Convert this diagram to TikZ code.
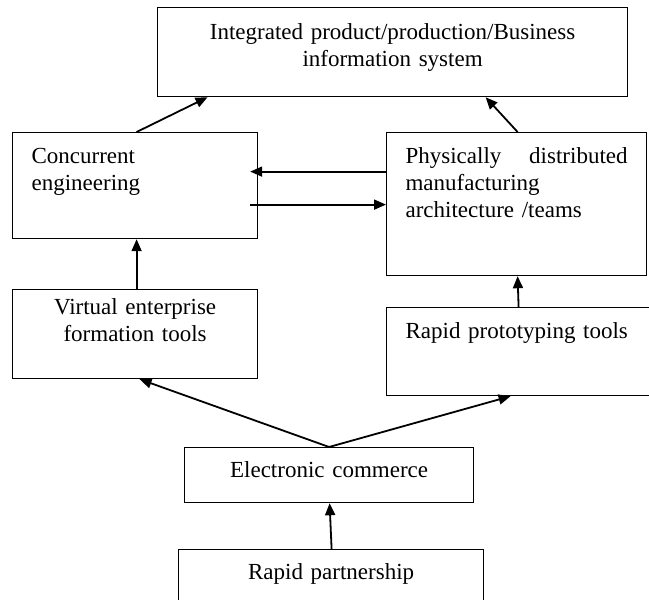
\documentclass[tikz,border=0pt]{standalone}
\usepackage{fontspec}
\setmainfont{Liberation Serif}
\usetikzlibrary{arrows.meta}

\begin{document}
\begin{tikzpicture}[x=0.5pt,y=-0.5pt,
	box/.style={draw, line width=0.6pt, anchor=north west, inner ysep=0pt,
		font=\fontsize{11.5}{13.5}\selectfont},
	arr/.style={line width=0.9pt, -{Triangle[length=6pt,width=5pt]}}]
	\useasboundingbox (0,0) rectangle (649,600);
	% boxes
	\node[box, align=center, inner xsep=0pt, text width=235pt, text height=16pt, text depth=28.5pt] (top) at (157,7)
		{Integrated product/production/Business\\information system};
	\node[box, align=left, inner xsep=9.5pt, text width=103.5pt, text height=15.5pt, text depth=37.5pt] (conc) at (12,132)
		{Concurrent\\engineering};
	\node[box, align=left, inner xsep=9.5pt, text width=111pt, text height=15.5pt, text depth=56pt] (phys) at (386,132)
		{Physically\hfill distributed\\manufacturing\\architecture /teams};
	\node[box, align=center, inner xsep=0pt, text width=122.5pt, text height=12.5pt, text depth=32pt] (virt) at (12,289)
		{Virtual enterprise\\formation tools};
	\node[box, align=left, inner xsep=9.5pt, text width=116pt, text height=15.5pt, text depth=28.5pt] (proto) at (386,307)
		{Rapid prototyping tools};
	\node[box, align=center, inner xsep=0pt, text width=144.5pt, text height=15pt, text depth=12.5pt] (ecom) at (184,447)
		{Electronic commerce};
	\node[box, align=center, inner xsep=0pt, text width=152.5pt, text height=15pt, text depth=15pt] (part) at (178,549)
		{Rapid partnership};
	% arrows
	\draw[arr] ([xshift=0.75pt]conc.north) -- ([xshift=-92.5pt]top.south);
	\draw[arr] ([xshift=0.5pt]phys.north) -- ([xshift=46.5pt]top.south);
	\draw[arr] ([yshift=16.25pt]phys.west) -- ([xshift=-4pt,yshift=7pt]conc.east);
	\draw[arr] ([xshift=-4pt,yshift=-9.5pt]conc.east) -- ([yshift=-0.25pt]phys.west);
	\draw[arr] ([xshift=0.75pt]virt.north) -- ([xshift=0.75pt]conc.south);
	\draw[arr] ([xshift=-1.5pt]proto.north) -- ([xshift=0.5pt]phys.south);
	\draw[arr] (ecom.north) -- ([xshift=2.25pt]virt.south);
	\draw[arr] (ecom.north) -- ([xshift=-5.5pt]proto.south);
	\draw[arr] ([xshift=0.25pt]part.north) -- ([xshift=0.25pt]ecom.south);
\end{tikzpicture}
\end{document}
